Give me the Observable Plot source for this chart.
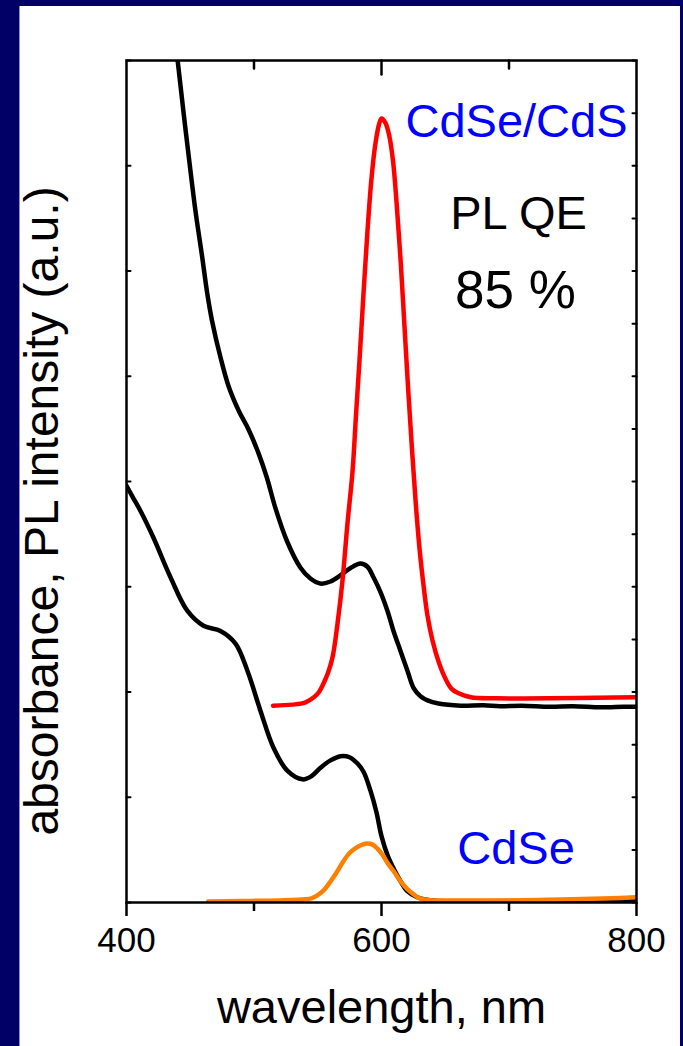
<!DOCTYPE html>
<html>
<head>
<meta charset="utf-8">
<script src="https://cdn.jsdelivr.net/npm/d3@7"></script>
<script src="https://cdn.jsdelivr.net/npm/@observablehq/plot@0.6"></script>
<style>
  html, body { margin: 0; padding: 0; }
  body { width: 683px; height: 1046px; background: #000066; position: relative; overflow: hidden; }
  #panel { position: absolute; left: 19px; top: 6px; width: 660px; height: 1040px; background: #ffffff; border-left: 1px solid #8c8cd0; }
  #chart { position: absolute; left: 0; top: 0; }
</style>
</head>
<body>
<div id="panel"></div>
<div id="chart"></div>
<script>
// ---- data (wavelength nm, arbitrary units) ----
const absCdSeCdS = [
  [435, 8.55], [440.2, 7.99], [444.9, 7.49], [448.9, 7.08], [454.1, 6.57], [459.4, 6.13],
  [463.3, 5.79], [467.2, 5.52], [473.7, 5.18], [480.2, 4.90], [488.1, 4.67], [495.9, 4.49],
  [503.8, 4.26], [510, 4.04], [517, 3.74], [526, 3.43], [536.5, 3.18], [544, 3.08],
  [552, 3.03], [560, 3.05], [568, 3.11], [576, 3.18], [583.5, 3.22], [589, 3.19],
  [593.7, 3.09], [599.2, 2.95], [604.7, 2.77], [609.4, 2.58], [614.9, 2.39], [620.4, 2.20],
  [625.1, 2.04], [630.6, 1.96], [636.1, 1.92], [644.7, 1.89], [662, 1.87], [680, 1.875],
  [693, 1.865], [710, 1.87], [732, 1.86], [750, 1.865], [772, 1.855], [790, 1.86], [800, 1.86]
];
const absCdSe = [
  [400, 3.96], [405, 3.85], [411, 3.72], [421, 3.47], [434.5, 3.09], [447.8, 2.77],
  [460.4, 2.63], [473.7, 2.58], [485.5, 2.46], [494.9, 2.20], [505.1, 1.82], [515.3, 1.47],
  [526.3, 1.25], [538, 1.17], [545, 1.20], [552.2, 1.28], [560, 1.35], [567.8, 1.39],
  [575, 1.38], [581.2, 1.32], [586, 1.24], [591.4, 1.06], [596, 0.86], [600, 0.63],
  [605, 0.44], [610, 0.31], [615, 0.20], [620, 0.11], [628, 0.05], [640, 0.02],
  [700, 0.014], [800, 0.024]
];
const plCdSeCdS = [
  [515, 1.87], [530, 1.88], [540, 1.90], [547, 1.95], [551, 2.00], [554.5, 2.08], [558, 2.18],
  [561.6, 2.33], [565.5, 2.65], [569.4, 3.06], [573.3, 3.60], [577.3, 4.10], [580, 4.63],
  [583, 5.20], [586, 5.81], [589, 6.38], [592, 6.86], [595, 7.19], [598, 7.39], [600, 7.45],
  [603, 7.41], [606, 7.29], [609, 7.05], [612, 6.62], [615, 6.10], [618, 5.48], [621, 4.86],
  [624, 4.29], [627, 3.77], [630, 3.34], [633, 3.01], [636, 2.73], [640, 2.49], [645, 2.28],
  [650, 2.13], [655, 2.03], [660, 1.99], [670, 1.95], [690, 1.94], [800, 1.95]
];
const plCdSe = [
  [464, 0.01], [490, 0.014], [520, 0.02], [540, 0.03], [545, 0.04], [550, 0.07], [555, 0.12],
  [560, 0.20], [565, 0.29], [570, 0.39], [575, 0.47], [580, 0.52], [585, 0.55], [589, 0.56],
  [593, 0.55], [597, 0.51], [601, 0.45], [605, 0.37], [610, 0.29], [615, 0.20], [620, 0.13],
  [625, 0.08], [630, 0.04], [640, 0.02], [660, 0.02], [700, 0.02], [750, 0.03], [780, 0.04],
  [800, 0.05]
];

// ---- ticks and labels ----
const xLabelTicks = [400, 600, 800];
const xMinorTicks = [500, 700];
const yLeftTicks = [0, 1, 2, 3, 4, 5, 6, 7, 8];
const yRightTicks = [0, 0.5, 1, 1.5, 2, 2.5, 3, 3.5, 4, 4.5, 5, 5.5, 6, 6.5, 7, 7.5, 8];
const xTitle = "wavelength, nm";
const yTitle = "absorbance, PL intensity (a.u.)";
const shellLabel = "CdSe/CdS";
const coreLabel = "CdSe";
const qeLabel = "PL QE";
const qeValue = "85 %";

const tickShape = { draw(context, l) { context.moveTo(0, 0); context.lineTo(0, -l); } };
const F = "'Liberation Sans', Arial, Helvetica, sans-serif";

const chart = Plot.plot({
  width: 683,
  height: 1046,
  marginLeft: 126,
  marginRight: 47,
  marginTop: 60,
  marginBottom: 144,
  style: { background: "transparent", fontFamily: F, overflow: "visible" },
  x: { domain: [400, 800], label: null },
  y: { domain: [0, 8], label: null, axis: null },
  marks: [
    Plot.line(absCdSeCdS, { x: d => d[0], y: d => d[1], stroke: "#000000", strokeWidth: 4.5, curve: "catmull-rom", clip: true }),
    Plot.line(absCdSe, { x: d => d[0], y: d => d[1], stroke: "#000000", strokeWidth: 4.5, curve: "catmull-rom", clip: true }),
    Plot.line(plCdSeCdS, { x: d => d[0], y: d => d[1], stroke: "#ff0000", strokeWidth: 4.5, curve: "catmull-rom", clip: true }),
    Plot.line(plCdSe, { x: d => d[0], y: d => d[1], stroke: "#ff8000", strokeWidth: 4.5, curve: "catmull-rom", clip: true }),
    Plot.frame({ stroke: "#000000", strokeWidth: 2.5 }),
    Plot.axisX({ anchor: "bottom", ticks: xLabelTicks, tickSize: 14, tickPadding: 11, strokeWidth: 2.5, fontSize: 35, fill: "#000000", tickFormat: d => String(d), label: null }),
    Plot.axisX({ anchor: "bottom", ticks: xMinorTicks, tickSize: 9, strokeWidth: 2.5, tickFormat: () => "", label: null }),
    Plot.vector(xMinorTicks, { x: d => d, y: 8, length: 8, rotate: 180, anchor: "start", shape: tickShape, stroke: "#000000", strokeWidth: 2.5 }),
    Plot.vector([600], { x: d => d, y: 8, length: 14, rotate: 180, anchor: "start", shape: tickShape, stroke: "#000000", strokeWidth: 2.5 }),
    Plot.vector(yLeftTicks, { x: 400, y: d => d, length: 4, rotate: 90, anchor: "start", shape: tickShape, stroke: "#000000", strokeWidth: 2 }),
    Plot.vector(yRightTicks, { x: 800, y: d => d, length: 4, rotate: -90, anchor: "start", shape: tickShape, stroke: "#000000", strokeWidth: 2 }),
    Plot.text([shellLabel], { x: 705.9, y: 7.27, text: d => d, fill: "#0000ff", fontSize: 47, textAnchor: "middle", lineAnchor: "bottom" }),
    Plot.text([qeLabel], { x: 707.5, y: 6.40, text: d => d, fill: "#000000", fontSize: 47, textAnchor: "middle", lineAnchor: "bottom" }),
    Plot.text([qeValue], { x: 705.1, y: 5.65, text: d => d, fill: "#000000", fontSize: 53, textAnchor: "middle", lineAnchor: "bottom" }),
    Plot.text([coreLabel], { x: 705.5, y: 0.37, text: d => d, fill: "#0000ff", fontSize: 47, textAnchor: "middle", lineAnchor: "bottom" }),
    Plot.text([xTitle], { x: 600, y: 0, dy: 120, text: d => d, fill: "#000000", fontSize: 47, textAnchor: "middle", lineAnchor: "bottom" }),
    Plot.text([yTitle], { x: 400, y: 3.72, dx: -69, rotate: -90, text: d => d, fill: "#000000", fontSize: 48, textAnchor: "middle", lineAnchor: "bottom" })
  ]
});
document.getElementById("chart").appendChild(chart);
</script>
</body>
</html>
